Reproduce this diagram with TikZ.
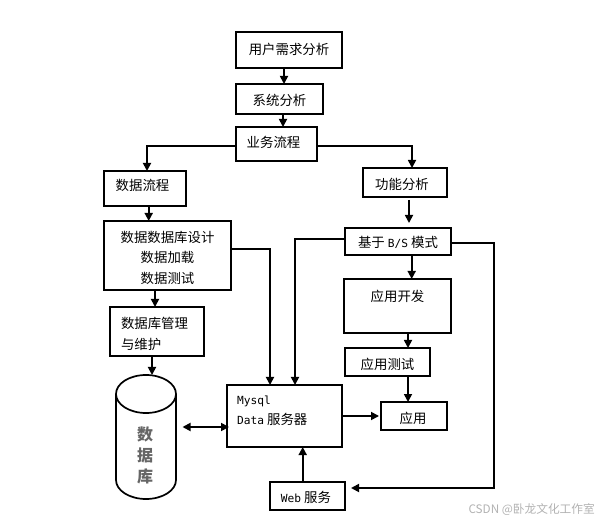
\documentclass[tikz,border=0pt]{standalone}
\usepackage{fontspec}
\setmainfont{Noto Sans CJK SC}
\newfontfamily\monofont{DejaVu Sans Mono}
\newcommand{\asc}[1]{{\fontsize{11.2}{20.5}\monofont #1}}
\newcommand{\nudge}[2]{\raisebox{#1}[\height][\depth]{#2}}
\usepackage{tikz}
\usetikzlibrary{arrows.meta, positioning, calc}

\begin{document}
\begin{tikzpicture}[
    x=1pt, y=-1pt,
    box/.style={rectangle, draw, line width=1.7pt, inner sep=0pt, outer sep=0pt, align=center,
        font=\fontsize{13.4}{20.5}\selectfont},
    link/.style={line width=1.7pt, -{Triangle[length=8pt,width=8pt]}},
    twolink/.style={line width=1.7pt, {Triangle[length=8pt,width=8pt]}-{Triangle[length=8pt,width=8pt]}},
]
    \useasboundingbox (0,0) rectangle (600,521);
    % left column
    \node[box, minimum width=106pt, minimum height=36pt] (user) at (289,50) {\nudge{1pt}{用户需求分析}};
    \node[box, minimum width=87pt, minimum height=30pt] (sys) at (279.5,99) {\nudge{-1pt}{系统分析}};
    \node[box, minimum width=81pt, minimum height=34pt] (biz) at (276.5,144) {\nudge{2pt}{业务流程\hspace{6pt}}};
    \node[box, minimum width=82pt, minimum height=35pt] (flow) at (145,188.5) {\nudge{2.8pt}{数据流程\hspace{5pt}}};
    \node[box, minimum width=127pt, minimum height=69pt] (design) at (167.5,255.5) {\rule{0pt}{16pt}数据数据库设计\\数据加载\\数据测试};
    \node[box, minimum width=94pt, minimum height=49pt, align=left] (manage) at (157,331.5) {\rule{0pt}{16pt}数据库管理\hspace*{5pt}\\与维护};
    % database drum
    \node[minimum width=60pt, minimum height=124pt, inner sep=0pt, outer sep=0pt] (store) at (146,437) {};
    \draw[line width=1.7pt] ([yshift=-19pt]store.north) ellipse [x radius=30pt, y radius=19pt];
    \draw[line width=1.7pt] ([yshift=-19pt]store.north west) -- ([yshift=19pt]store.south west)
        arc[start angle=180, end angle=360, x radius=30pt, y radius=19pt] -- ([yshift=-19pt]store.north east);
    \node[align=center, text=black!60, inner sep=0pt, font=\fontsize{16}{21}\bfseries\selectfont] (storetext) at (145,455) {数\\据\\库};
    % right column
    \node[box, minimum width=84pt, minimum height=29pt] (func) at (405,182.5) {\nudge{-1.5pt}{功能分析\hspace{6pt}}};
    \node[box, minimum width=106pt, minimum height=27pt] (bs) at (398,241.5) {\nudge{-1.2pt}{基于 \asc{B/S} 模式}};
    \node[box, minimum width=107pt, minimum height=54pt] (dev) at (397.5,306) {\nudge{10pt}{应用开发}};
    \node[box, minimum width=85pt, minimum height=28pt] (test) at (387.5,362) {\nudge{-2pt}{应用测试}};
    \node[box, minimum width=66pt, minimum height=28pt] (app) at (414,416) {\nudge{-2pt}{应用\hspace{2pt}}};
    % servers
    \node[box, minimum width=115pt, minimum height=62pt] (mysql) at (284.5,416) {};
    \node[anchor=west, align=left, inner sep=0pt, font=\fontsize{13.4}{20}\selectfont] (mysqltext) at (237,411) {\asc{Mysql}\\\asc{Data} 服务器};
    \node[box, minimum width=75pt, minimum height=28pt] (web) at (307.5,496) {\nudge{-1.7pt}{\asc{Web} 服务\hspace{3pt}}};
    \node[text=black!30, inner sep=0pt, anchor=east, font=\fontsize{11.7}{12}\selectfont] (mark) at (595,510) {CSDN @卧龙文化工作室};
    \coordinate (turn) at (494.3,488);

    % connectors
    \draw[link] ([xshift=-5pt]user.south) -- ([xshift=-5pt]user.south |- sys.north);
    \draw[link] ([xshift=3.5pt]sys.south) -- ([xshift=3.5pt]sys.south |- biz.north);
    \draw[link] ([yshift=-2pt]biz.west) -| ([xshift=2pt]flow.north);
    \draw[link] ([yshift=-2pt]biz.east) -| ([xshift=7pt]func.north);
    \draw[link] ([xshift=3.7pt]flow.south) -- ([xshift=3.7pt]flow.south |- design.north);
    \draw[link] ([xshift=-2pt]manage.north |- design.south) -- ([xshift=-2pt]manage.north);
    \draw[link] ([xshift=-5pt]manage.south) -- ([xshift=-5pt]manage.south |- store.north);
    \draw[link, shorten <=3pt, shorten >=5pt] ([xshift=4pt]func.south) -- ([xshift=4pt]func.south |- bs.north);
    \draw[link] ([yshift=6.5pt]design.east) -| ([xshift=-14.5pt]mysql.north);
    \draw[link] ([yshift=2.5pt]bs.west) -| ([xshift=10.5pt]mysql.north);
    \draw[link] ([xshift=13.7pt]bs.south) -- ([xshift=13.7pt]bs.south |- dev.north);
    \draw[link] ([xshift=10.5pt]dev.south) -- ([xshift=10.5pt]dev.south |- test.north);
    \draw[link] ([xshift=20.5pt]test.south) -- ([xshift=20.5pt]test.south |- app.north);
    \draw[link] ([yshift=-1.5pt]bs.east) -- ([yshift=-1.5pt]bs.east -| turn) -- (turn) -- ([xshift=6pt,yshift=8pt]web.east);
    \draw[link] (mysql.east) -- ([xshift=-2pt]app.west);
    \draw[link] ([xshift=-4.8pt]web.north) -- ([xshift=-4.8pt]web.north |- mysql.south);
    \draw[twolink] ([xshift=6.5pt,yshift=-11pt]mysql.west -| store.east) -- ([xshift=2pt,yshift=-11pt]mysql.west);
\end{tikzpicture}
\end{document}
